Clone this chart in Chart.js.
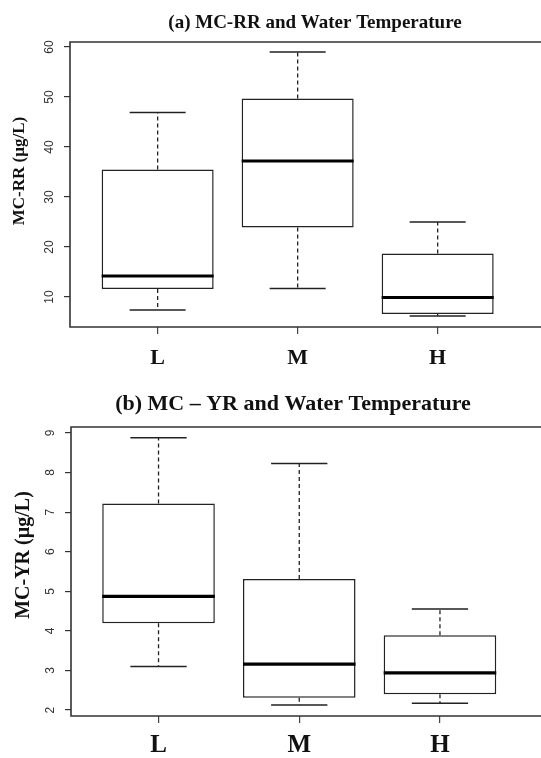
<!DOCTYPE html>
<html lang="en">
<head>
<meta charset="UTF-8" />
<title>MC-RR and MC-YR vs Water Temperature</title>
<script src="https://cdn.jsdelivr.net/npm/chart.js"></script>
<style>
  body { margin: 0; background: #fff; }
  canvas { display: block; }
</style>
</head>
<body>
<canvas id="chartRR" width="541" height="380"></canvas>
<canvas id="chartYR" width="541" height="378"></canvas>
<script>
const groups = ['L', 'M', 'H'];

// (a) MC-RR, µg/L
const rrMin = [7.4, 11.7, 6.2];
const rrQ1 = [11.6, 23.9, 6.6];
const rrMedian = [14.2, 37.2, 9.9];
const rrQ3 = [35.5, 49.7, 18.7];
const rrMax = [46.9, 59.0, 25.0];
const rrTicks = [10, 20, 30, 40, 50, 60];

// (b) MC-YR, µg/L
const yrMin = [3.10, 2.13, 2.17];
const yrQ1 = [4.19, 2.31, 2.40];
const yrMedian = [4.87, 3.16, 2.94];
const yrQ3 = [7.22, 5.31, 3.89];
const yrMax = [8.88, 8.23, 4.55];
const yrTicks = [2, 3, 4, 5, 6, 7, 8, 9];

const INK = '#222';

// whiskers, caps and medians drawn on top of the floating bars
const boxExtras = {
  id: 'boxExtras',
  afterDatasetsDraw(chart, args, opts) {
    const { ctx } = chart;
    const x = chart.scales.x, y = chart.scales.y;
    const bars = chart.getDatasetMeta(0).data;
    ctx.save();
    bars.forEach((bar, i) => {
      const cx = x.getPixelForValue(i + 1);
      const half = bar.width / 2;
      const cap = half / 2;
      ctx.strokeStyle = INK;
      ctx.lineWidth = 1.3;
      ctx.setLineDash([4, 3]);
      ctx.beginPath();
      ctx.moveTo(cx, y.getPixelForValue(opts.q3[i]));
      ctx.lineTo(cx, y.getPixelForValue(opts.max[i]));
      ctx.moveTo(cx, y.getPixelForValue(opts.q1[i]));
      ctx.lineTo(cx, y.getPixelForValue(opts.min[i]));
      ctx.stroke();
      ctx.setLineDash([]);
      ctx.lineWidth = 1.5;
      ctx.beginPath();
      [opts.max[i], opts.min[i]].forEach(v => {
        const py = y.getPixelForValue(v);
        ctx.moveTo(cx - cap, py);
        ctx.lineTo(cx + cap, py);
      });
      ctx.stroke();
      ctx.lineWidth = 3.2;
      ctx.strokeStyle = '#000';
      ctx.beginPath();
      const my = y.getPixelForValue(opts.median[i]);
      ctx.moveTo(cx - half, my);
      ctx.lineTo(cx + half, my);
      ctx.stroke();
    });
    ctx.restore();
  }
};

// plot frame (right side runs off the picture) plus panel title and y title
const panelDecor = {
  id: 'panelDecor',
  afterDraw(chart, args, opts) {
    const { ctx, chartArea: a } = chart;
    ctx.save();
    ctx.strokeStyle = '#333';
    ctx.lineWidth = 1.6;
    ctx.beginPath();
    ctx.moveTo(chart.width + 5, a.top);
    ctx.lineTo(a.left, a.top);
    ctx.lineTo(a.left, a.bottom);
    ctx.lineTo(chart.width + 5, a.bottom);
    ctx.stroke();

    ctx.fillStyle = '#111';
    ctx.textAlign = 'center';
    ctx.textBaseline = 'middle';
    ctx.font = opts.titleFont;
    ctx.fillText(opts.title, opts.titleX, opts.titleY);

    ctx.translate(opts.yTitleX, opts.yTitleY);
    ctx.rotate(-Math.PI / 2);
    ctx.font = opts.yTitleFont;
    ctx.fillText(opts.yTitle, 0, 0);
    ctx.restore();
  }
};

function boxChart(id, s) {
  return new Chart(document.getElementById(id), {
    type: 'bar',
    data: {
      datasets: [{
        data: groups.map((g, i) => ({ x: i + 1, y: [s.q1[i], s.q3[i]] })),
        backgroundColor: '#fff',
        borderColor: INK,
        borderWidth: 1.5,
        borderSkipped: false,
        categoryPercentage: 1,
        barPercentage: 0.8
      }]
    },
    options: {
      responsive: false,
      animation: false,
      layout: { padding: { top: s.padTop, left: 0, right: 0, bottom: 0 } },
      plugins: {
        legend: { display: false },
        tooltip: { enabled: false },
        boxExtras: s,
        panelDecor: s.decor
      },
      scales: {
        x: {
          type: 'linear',
          offset: false,
          min: s.xMin,
          max: s.xMax,
          afterBuildTicks: axis => { axis.ticks = groups.map((g, i) => ({ value: i + 1 })); },
          afterFit: axis => { axis.height = s.xHeight; },
          ticks: {
            callback: v => groups[v - 1],
            padding: s.xPad,
            color: '#111',
            font: { family: 'Liberation Serif', weight: 'bold', size: s.xFont }
          },
          grid: { offset: false, drawOnChartArea: false, tickLength: 7, color: '#444', lineWidth: 1.2 },
          border: { display: false }
        },
        y: {
          min: s.yMin,
          max: s.yMax,
          afterBuildTicks: axis => { axis.ticks = s.ticks.map(v => ({ value: v })); },
          afterFit: axis => { axis.width = s.yWidth; },
          ticks: {
            minRotation: 90,
            maxRotation: 90,
            crossAlign: 'center',
            padding: s.yPad,
            color: '#333',
            font: { family: 'Liberation Sans', size: 12 }
          },
          grid: { drawOnChartArea: false, tickLength: 6, color: '#333', lineWidth: 1.2 },
          border: { display: false }
        }
      }
    },
    plugins: [boxExtras, panelDecor]
  });
}

boxChart('chartRR', {
  min: rrMin, q1: rrQ1, median: rrMedian, q3: rrQ3, max: rrMax, ticks: rrTicks,
  yMin: 4.0, yMax: 61.0, xMin: 0.374, xMax: 3.738,
  padTop: 42, xHeight: 53, yWidth: 70, xPad: 11, yPad: 8, xFont: 22,
  decor: {
    title: '(a) MC-RR and Water Temperature', titleX: 315, titleY: 23,
    titleFont: 'bold 19px "Liberation Serif"',
    yTitle: 'MC-RR (µg/L)', yTitleX: 20, yTitleY: 171,
    yTitleFont: 'bold 17px "Liberation Serif"'
  }
});

boxChart('chartYR', {
  min: yrMin, q1: yrQ1, median: yrMedian, q3: yrQ3, max: yrMax, ticks: yrTicks,
  yMin: 1.85, yMax: 9.15, xMin: 0.378, xMax: 3.718,
  padTop: 47, xHeight: 42, yWidth: 71, xPad: 8, yPad: 11, xFont: 25,
  decor: {
    title: '(b) MC – YR and Water Temperature', titleX: 293, titleY: 24,
    titleFont: 'bold 22px "Liberation Serif"',
    yTitle: 'MC-YR (µg/L)', yTitleX: 24, yTitleY: 175,
    yTitleFont: 'bold 20px "Liberation Serif"'
  }
});
</script>
</body>
</html>
